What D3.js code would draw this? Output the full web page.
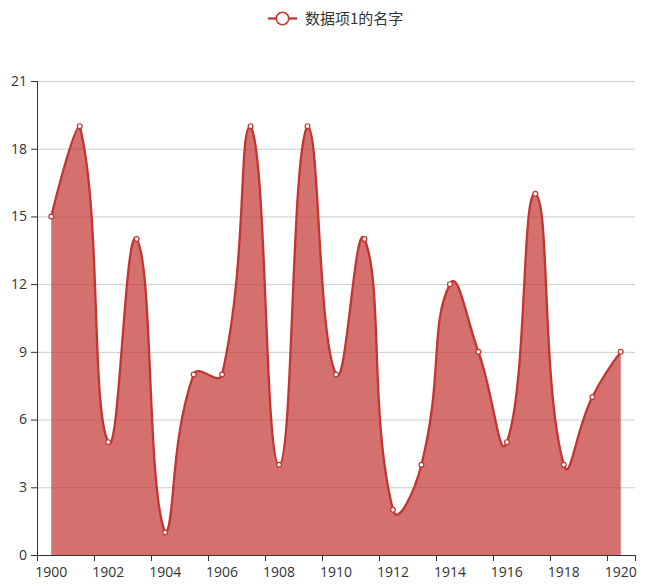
<!DOCTYPE html>
<html><head><meta charset="utf-8">
<script src="https://cdn.jsdelivr.net/npm/d3@7"></script>
<style>
html,body{margin:0;padding:0;background:#fff;}
svg{display:block;font-family:"Open Sans","Noto Sans CJK SC",sans-serif;}
</style></head>
<body><svg id="chart" width="645" height="588"></svg>
<script>
const categories = ["1900","1901","1902","1903","1904","1905","1906","1907","1908","1909","1910","1911","1912","1913","1914","1915","1916","1917","1918","1919","1920"];
const values = [15,19,5,14,1,8,8,19,4,19,8,14,2,4,12,9,5,16,4,7,9];
const yTicks = [0,3,6,9,12,15,18,21];
const seriesName = "数据项1的名字";
const color = "#c23531";

(function () {
const svg = d3.select("#chart");
const gLeft = 37, gRight = 635, gTop = 81, gBottom = 555;
const x = d3.scaleBand().domain(categories).range([gLeft, gRight]).padding(0);
const xc = c => x(c) + x.bandwidth() / 2;
const y = d3.scaleLinear().domain([0, 21]).range([gBottom, gTop]);

// grid lines
svg.append("g").selectAll("line").data(yTicks.filter(t => t > 0)).join("line")
  .attr("x1", gLeft).attr("x2", gRight)
  .attr("y1", d => y(d) + 0.5).attr("y2", d => y(d) + 0.5)
  .attr("stroke", "#ccc").attr("stroke-width", 1);

// smooth path (ECharts v4 style)
function smoothPoints(pts, smooth, p, moveFirst) {
  const mn = [d3.min(pts, d => d[0]), d3.min(pts, d => d[1])];
  const mx = [d3.max(pts, d => d[0]), d3.max(pts, d => d[1])];
  const clamp = c => [Math.max(mn[0], Math.min(mx[0], c[0])), Math.max(mn[1], Math.min(mx[1], c[1]))];
  let cp0 = pts[0].slice();
  if (moveFirst) p.moveTo(pts[0][0], pts[0][1]); else p.lineTo(pts[0][0], pts[0][1]);
  for (let i = 1; i < pts.length; i++) {
    const P = pts[i], prev = pts[i - 1], next = pts[i + 1];
    let cp1, ratio = 0.5, v = [0, 0];
    if (!next) { cp1 = P.slice(); }
    else {
      v = [next[0] - prev[0], next[1] - prev[1]];
      const d0 = Math.hypot(P[0] - prev[0], P[1] - prev[1]);
      const d1 = Math.hypot(next[0] - P[0], next[1] - P[1]);
      ratio = d1 / (d0 + d1);
      cp1 = [P[0] - v[0] * smooth * (1 - ratio), P[1] - v[1] * smooth * (1 - ratio)];
    }
    cp0 = clamp(cp0); cp1 = clamp(cp1);
    p.bezierCurveTo(cp0[0], cp0[1], cp1[0], cp1[1], P[0], P[1]);
    cp0 = [P[0] + v[0] * smooth * ratio, P[1] + v[1] * smooth * ratio];
  }
  return p;
}

const pts = values.map((v, i) => [xc(categories[i]), y(v)]);

// area
const ap = d3.path();
ap.moveTo(pts[0][0], y(0));
smoothPoints(pts, 0.5, ap, false);
ap.lineTo(pts[pts.length - 1][0], y(0));
ap.closePath();
svg.append("path").attr("d", ap.toString()).attr("fill", color).attr("fill-opacity", 0.7);

// line
svg.append("path").attr("d", smoothPoints(pts, 0.5, d3.path(), true).toString())
  .attr("fill", "none").attr("stroke", color).attr("stroke-width", 2.3).attr("stroke-linejoin", "round");

// y axis
const yAxis = svg.append("g");
yAxis.append("line").attr("x1", gLeft + 0.5).attr("x2", gLeft + 0.5).attr("y1", gTop).attr("y2", gBottom)
  .attr("stroke", "#333").attr("stroke-width", 1);
yAxis.selectAll("line.t").data(yTicks).join("line").attr("class", "t")
  .attr("x1", gLeft - 6).attr("x2", gLeft).attr("y1", d => y(d) + 0.5).attr("y2", d => y(d) + 0.5)
  .attr("stroke", "#333");
yAxis.selectAll("text").data(yTicks).join("text")
  .attr("x", gLeft - 10).attr("y", d => y(d)).attr("dy", "0.35em")
  .attr("text-anchor", "end").attr("font-size", 14).attr("fill", "#333").text(d => d);

// x axis
const xAxis = svg.append("g");
xAxis.append("line").attr("x1", gLeft).attr("x2", gRight).attr("y1", gBottom + 0.5).attr("y2", gBottom + 0.5)
  .attr("stroke", "#333");
const labelCats = categories.filter((c, i) => i % 2 === 0);
const tickPos = labelCats.map(c => x(c)).concat([gRight]);
xAxis.selectAll("line.t").data(tickPos).join("line").attr("class", "t")
  .attr("x1", d => Math.round(d) + 0.5).attr("x2", d => Math.round(d) + 0.5)
  .attr("y1", gBottom).attr("y2", gBottom + 6).attr("stroke", "#333");
xAxis.selectAll("text").data(labelCats).join("text")
  .attr("x", d => xc(d)).attr("y", gBottom + 22)
  .attr("text-anchor", "middle").attr("font-size", 14).attr("fill", "#333").text(d => d);

// symbols
svg.append("g").selectAll("circle").data(pts).join("circle")
  .attr("cx", d => d[0]).attr("cy", d => d[1]).attr("r", 2.4)
  .attr("fill", "#fff").attr("stroke", color).attr("stroke-width", 1.2);

// legend
const lg = svg.append("g");
lg.append("line").attr("x1", 268).attr("x2", 297).attr("y1", 18.5).attr("y2", 18.5)
  .attr("stroke", color).attr("stroke-width", 2.3);
lg.append("circle").attr("cx", 282.5).attr("cy", 18.5).attr("r", 6.2)
  .attr("fill", "#fff").attr("stroke", color).attr("stroke-width", 1.6);
lg.append("text").attr("x", 305).attr("y", 18.5).attr("dy", "0.35em")
  .attr("font-family", "'Noto Sans CJK SC',sans-serif")
  .attr("font-size", 15).attr("fill", "#333").text(seriesName);
})();
</script></body></html>
